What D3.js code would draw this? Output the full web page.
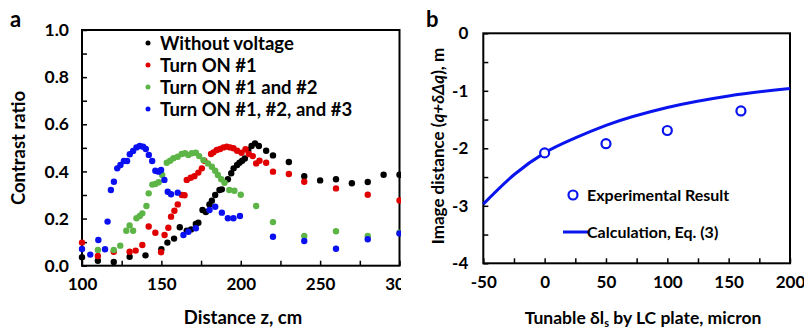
<!DOCTYPE html>
<html>
<head>
<meta charset="utf-8">
<script src="https://cdn.jsdelivr.net/npm/d3@7"></script>
<style>
  body { margin: 0; background: #fff; }
  svg text { font-family: Lato, "Open Sans", sans-serif; font-weight: bold; fill: #000; }
</style>
</head>
<body>
<svg id="canvas" width="804" height="330"></svg>
<script>
// ---- panel a data (distance z in cm, contrast ratio) ----
const blackZ = [100,110,120,130,140,150,153.8,158,161.6,166,168.7,171.7,173.3,175.9,178,180.3,181.8,183.9,186.6,188.1,191.9,194,195.5,197.7,199.2,200.9,202.6,204.7,206.8,209,211.4,216,220.3,230.3,240,250,260,270,280,290,300];
const blackV = [0.036,0.021,0.016,0.038,0.044,0.07,0.098,0.115,0.163,0.149,0.154,0.177,0.182,0.236,0.228,0.26,0.276,0.30,0.321,0.324,0.367,0.392,0.413,0.427,0.437,0.445,0.455,0.49,0.508,0.519,0.508,0.488,0.468,0.44,0.38,0.362,0.367,0.35,0.355,0.386,0.386];

const redZ = [100,110,120,130,133.8,138,142,146.2,149.8,152,154.4,156.1,158.2,160.3,162.9,164.6,166,168.5,170.8,173.3,175.5,177.1,181.3,182.8,184.9,187,189.1,191.2,193.3,195.4,197.7,200.5,203,205.1,207.6,209.7,211.8,216,220.3,230.3,240,260,280,300];
const redV = [0.098,0.041,0.059,0.059,0.064,0.088,0.166,0.14,0.057,0.13,0.161,0.208,0.233,0.26,0.30,0.299,0.364,0.373,0.38,0.395,0.413,0.445,0.474,0.481,0.491,0.495,0.502,0.505,0.502,0.498,0.488,0.479,0.494,0.474,0.465,0.434,0.445,0.437,0.399,0.389,0.356,0.328,0.301,0.277];

const greenZ = [110,120,124.1,127.9,130,132.2,134.3,136.4,138,140.6,142,144.3,146.2,148.3,150.5,153.4,155.5,157.6,160.3,162.8,164.9,167,169.2,171.7,173.8,176.5,179.3,181.8,183.9,185.6,187.7,189.8,192.8,196,200,209.7,220.3,240,260,280,300];
const greenV = [0.067,0.067,0.085,0.148,0.171,0.148,0.201,0.211,0.222,0.253,0.307,0.344,0.347,0.354,0.385,0.437,0.445,0.456,0.462,0.474,0.477,0.47,0.477,0.479,0.465,0.448,0.434,0.42,0.403,0.385,0.367,0.352,0.321,0.318,0.301,0.253,0.185,0.126,0.146,0.126,0.14];

const blueZ = [100,105.2,110.3,114.5,116.1,118.2,120.1,122.2,124.2,126.4,128.4,130.1,132.2,134.3,136.4,138.5,140.2,142.1,144.2,146.2,148.2,149.8,151.9,154,156.1,160.3,163.9,167,171.7,180.3,183.9,188.1,191.9,195.4,199.5,220.3,240,260,280,300];
const blueV = [0.071,0.047,0.109,0.07,0.187,0.321,0.356,0.413,0.427,0.444,0.444,0.473,0.487,0.502,0.508,0.505,0.495,0.47,0.444,0.403,0.399,0.406,0.364,0.314,0.303,0.31,0.13,0.144,0.159,0.236,0.25,0.225,0.201,0.201,0.211,0.123,0.105,0.072,0.112,0.137];

const seriesNames = ["Without voltage", "Turn ON #1", "Turn ON #1 and #2", "Turn ON #1, #2, and #3"];
const seriesColors = ["#000000", "#e00000", "#5cb546", "#0a10f0"];

// ---- panel b data (tunable delta l_s in micron, image distance in m) ----
const expX = [0, 50, 100, 160];
const expY = [-2.08, -1.92, -1.69, -1.35];
const calcX = [-50, -25, 0, 25, 50, 100, 150, 200];
const calcY = [-2.97, -2.46, -2.08, -1.82, -1.6, -1.29, -1.09, -0.96];

const svg = d3.select("#canvas");

// panel a is cut at its right edge (the "300" label is clipped in the figure)
svg.append("defs").append("clipPath").attr("id", "clipA")
    .append("rect").attr("x", 0).attr("y", 0).attr("width", 401).attr("height", 330);

// ================= panel a =================
const xA = d3.scaleLinear().domain([100, 300]).range([82, 399.5]);
const yA = d3.scaleLinear().domain([0, 1]).range([265.7, 30]);

const gA = svg.append("g").attr("clip-path", "url(#clipA)");

// inward ticks, labels on every other one
gA.append("g")
    .attr("transform", `translate(0,${yA(0)})`)
    .call(d3.axisBottom(xA).tickValues(d3.range(100, 301, 25))
        .tickSizeInner(-5).tickSizeOuter(0).tickPadding(21)
        .tickFormat(d => d % 50 === 0 ? d : ""))
    .call(g => g.select(".domain").remove())
    .call(g => g.selectAll("line").attr("stroke", "#000").attr("stroke-width", 1.5))
    .call(g => g.selectAll("text").attr("font-size", 17).attr("dy", "0.2em"));

gA.append("g")
    .attr("transform", `translate(${xA(100)},0)`)
    .call(d3.axisLeft(yA).tickValues(d3.range(0, 1.001, 0.1))
        .tickSizeInner(-5).tickSizeOuter(0).tickPadding(13)
        .tickFormat((d, i) => i % 2 === 0 ? d3.format(".1f")(d) : ""))
    .call(g => g.select(".domain").remove())
    .call(g => g.selectAll("line").attr("stroke", "#000").attr("stroke-width", 1.5))
    .call(g => g.selectAll("text").attr("font-size", 17.5));

gA.append("rect")
    .attr("x", xA(100)).attr("y", yA(1))
    .attr("width", xA(300) - xA(100)).attr("height", yA(0) - yA(1))
    .attr("fill", "none").attr("stroke", "#000").attr("stroke-width", 2);

const dataA = [
    [blackZ, blackV], [redZ, redV], [greenZ, greenV], [blueZ, blueV]
];
dataA.forEach(([zs, vs], k) => {
    gA.append("g").selectAll("circle")
        .data(zs.map((z, i) => [z, vs[i]]))
        .join("circle")
        .attr("cx", d => xA(d[0]))
        .attr("cy", d => yA(d[1]))
        .attr("r", 3.2)
        .attr("fill", seriesColors[k]);
});

// legend
seriesNames.forEach((name, i) => {
    const ly = 43 + i * 22;
    gA.append("circle").attr("cx", 148).attr("cy", ly).attr("r", 2.5).attr("fill", seriesColors[i]);
    gA.append("text").attr("x", 160).attr("y", ly).attr("dy", "0.36em")
        .attr("font-size", 18.5).text(name);
});

gA.append("text").attr("x", 10).attr("y", 27).attr("font-size", 22).text("a");
gA.append("text").attr("x", 243).attr("y", 324).attr("text-anchor", "middle")
    .attr("font-size", 18.5).text("Distance z, cm");
gA.append("text").attr("transform", "translate(25,148) rotate(-90)")
    .attr("text-anchor", "middle").attr("font-size", 18.5).text("Contrast ratio");

// ================= panel b =================
const xB = d3.scaleLinear().domain([-50, 200]).range([483.3, 790]);
const yB = d3.scaleLinear().domain([-4, 0]).range([263.3, 33.3]);
const blueB = "#0a14ee";

const gB = svg.append("g");

gB.append("g")
    .attr("transform", `translate(0,${yB(-4)})`)
    .call(d3.axisBottom(xB).tickValues(d3.range(-50, 201, 25))
        .tickSizeInner(-5).tickSizeOuter(0).tickPadding(21)
        .tickFormat(d => d % 50 === 0 ? d : ""))
    .call(g => g.select(".domain").remove())
    .call(g => g.selectAll("line").attr("stroke", "#000").attr("stroke-width", 1.5))
    .call(g => g.selectAll("text").attr("font-size", 17).attr("dy", "0.2em"));

gB.append("g")
    .attr("transform", `translate(${xB(-50)},0)`)
    .call(d3.axisLeft(yB).tickValues(d3.range(-4, 0.001, 0.5))
        .tickSizeInner(-5).tickSizeOuter(0).tickPadding(15)
        .tickFormat(d => Number.isInteger(d) ? d : ""))
    .call(g => g.select(".domain").remove())
    .call(g => g.selectAll("line").attr("stroke", "#000").attr("stroke-width", 1.5))
    .call(g => g.selectAll("text").attr("font-size", 17));

gB.append("rect")
    .attr("x", xB(-50)).attr("y", yB(0))
    .attr("width", xB(200) - xB(-50)).attr("height", yB(-4) - yB(0))
    .attr("fill", "none").attr("stroke", "#000").attr("stroke-width", 2);

const line = d3.line()
    .x(d => xB(d[0]))
    .y(d => yB(d[1]))
    .curve(d3.curveMonotoneX);

gB.append("path")
    .datum(calcX.map((x, i) => [x, calcY[i]]))
    .attr("d", line)
    .attr("fill", "none").attr("stroke", blueB).attr("stroke-width", 3);

gB.append("g").selectAll("circle")
    .data(expX.map((x, i) => [x, expY[i]]))
    .join("circle")
    .attr("cx", d => xB(d[0]))
    .attr("cy", d => yB(d[1]))
    .attr("r", 4.5)
    .attr("fill", "#fff").attr("stroke", blueB).attr("stroke-width", 2.2);

// legend b
gB.append("circle").attr("cx", 573).attr("cy", 195).attr("r", 4.5)
    .attr("fill", "#fff").attr("stroke", blueB).attr("stroke-width", 2.2);
gB.append("text").attr("x", 587).attr("y", 195).attr("dy", "0.36em")
    .attr("font-size", 16).text("Experimental Result");
gB.append("line").attr("x1", 563).attr("x2", 588).attr("y1", 232).attr("y2", 232)
    .attr("stroke", blueB).attr("stroke-width", 3);
gB.append("text").attr("x", 587).attr("y", 232).attr("dy", "0.36em")
    .attr("font-size", 16).text("Calculation, Eq. (3)");

gB.append("text").attr("x", 426).attr("y", 27).attr("font-size", 22).text("b");

const xt = gB.append("text").attr("x", 643).attr("y", 324).attr("text-anchor", "middle")
    .attr("font-size", 17.5);
xt.append("tspan").text("Tunable δl");
xt.append("tspan").attr("font-size", 11).attr("dy", 3).text("s");
xt.append("tspan").attr("dy", -3).text(" by LC plate, micron");

const yt = gB.append("text").attr("transform", "translate(444,146) rotate(-90)")
    .attr("text-anchor", "middle").attr("font-size", 17);
yt.append("tspan").text("Image distance (");
yt.append("tspan").attr("font-style", "italic").text("q+δΔq");
yt.append("tspan").text("), m");
</script>
</body>
</html>
